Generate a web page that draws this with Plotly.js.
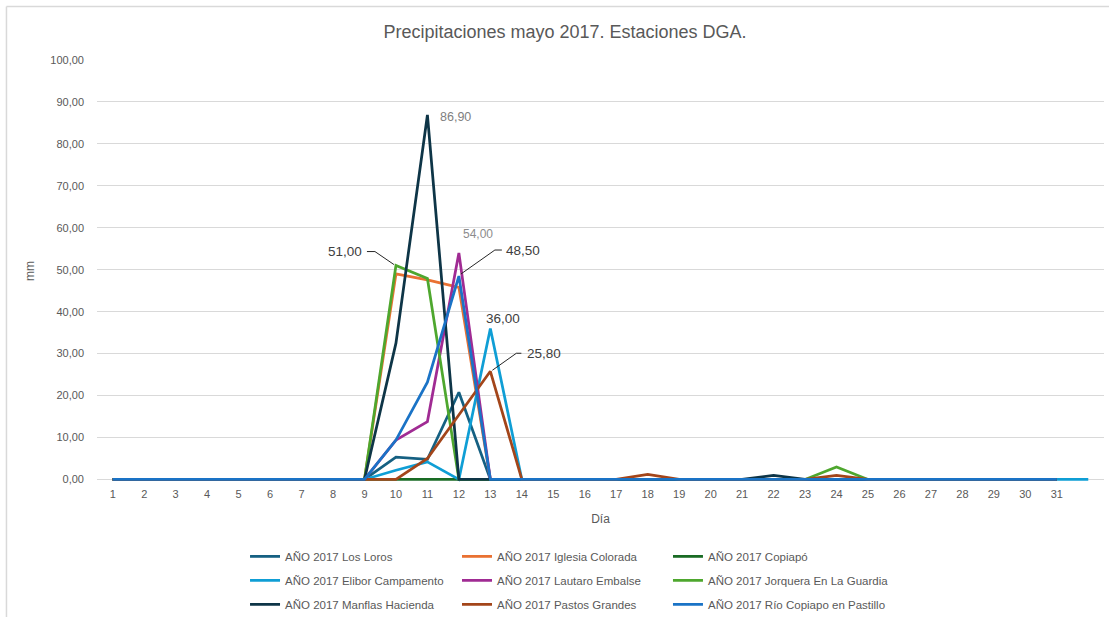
<!DOCTYPE html>
<html>
<head>
<meta charset="utf-8">
<script src="https://cdn.plot.ly/plotly-3.0.1.min.js"></script>
<style>
  html, body { margin: 0; padding: 0; background: #ffffff; }
  #chart { width: 1109px; height: 617px; }
</style>
</head>
<body>
<div id="chart"></div>
<script>
// ---- Data ----
const dayLabels = ['1','2','3','4','5','6','7','8','9','10','11','12','13','14','15','16','17','18','19','20','21','22','23','24','25','26','27','28','29','30','31'];
const days31 = [1,2,3,4,5,6,7,8,9,10,11,12,13,14,15,16,17,18,19,20,21,22,23,24,25,26,27,28,29,30,31];
const days32 = [1,2,3,4,5,6,7,8,9,10,11,12,13,14,15,16,17,18,19,20,21,22,23,24,25,26,27,28,29,30,31,32];

const losLoros   = [0,0,0,0,0,0,0,0,0,5.3,4.8,20.8,0,0,0,0,0,0,0,0,0,0,0,0,0,0,0,0,0,0,0];
const iglesia    = [0,0,0,0,0,0,0,0,0,49.0,47.6,45.8,0,0,0,0,0,0,0,0,0,0,0,0,0,0,0,0,0,0,0];
const copiapo    = [0,0,0,0,0,0,0,0,0,0,0,0,0,0,0,0,0,0,0,0,0,0,0,0,0,0,0,0,0,0,0];
const elibor     = [0,0,0,0,0,0,0,0,0,2.2,4.2,0,36.0,0,0,0,0,0,0,0,0,0,0,0,0,0,0,0,0,0,0,0];
const lautaro    = [0,0,0,0,0,0,0,0,0,9.4,13.8,54.0,0,0,0,0,0,0,0,0,0,0,0,0,0,0,0,0,0,0,0];
const jorquera   = [0,0,0,0,0,0,0,0,0,51.0,47.9,0,0,0,0,0,0,0,0,0,0,0,0,3.0,0,0,0,0,0,0,0];
const manflas    = [0,0,0,0,0,0,0,0,0,32.5,86.9,0,0,0,0,0,0,0,0,0,0,1.0,0,0,0,0,0,0,0,0,0];
const pastos     = [0,0,0,0,0,0,0,0,0,0,5.0,15.4,25.8,0,0,0,0,1.2,0,0,0,0,0,1.0,0,0,0,0,0,0,0];
const rioCopiapo = [0,0,0,0,0,0,0,0,0,9.4,23.2,48.5,0,0,0,0,0,0,0,0,0,0,0,0,0,0,0,0,0,0,0];

const seriesNames = [
  'AÑO 2017 Los Loros', 'AÑO 2017 Iglesia Colorada', 'AÑO 2017 Copiapó',
  'AÑO 2017 Elibor Campamento', 'AÑO 2017 Lautaro Embalse', 'AÑO 2017 Jorquera En La Guardia',
  'AÑO 2017 Manflas Hacienda', 'AÑO 2017 Pastos Grandes', 'AÑO 2017 Río Copiapo en Pastillo'
];
const yTicks = [0,10,20,30,40,50,60,70,80,90,100];

// ---- Styling ----
const colors = ['#156082','#E97132','#196B24','#0F9ED5','#A02B93','#4EA72E','#0E3547','#A3451A','#1A73C6'];
const seriesY = [losLoros, iglesia, copiapo, elibor, lautaro, jorquera, manflas, pastos, rioCopiapo];
const seriesX = [days31, days31, days31, days32, days31, days31, days31, days31, days31];
const legendIds = ['legend','legend2','legend3','legend4','legend5','legend6','legend7','legend8','legend9'];

const traces = seriesY.map((ys, i) => ({
  type: 'scatter', mode: 'lines',
  x: seriesX[i], y: ys, name: seriesNames[i],
  line: { color: colors[i], width: 2.75 },
  legend: legendIds[i],
  hoverinfo: 'x+y+name'
}));

const fmt = v => v.toFixed(2).replace('.', ',');

// Data labels: [series, dayIndex, xshift, yshift, xanchor, size, color]
const labelSpecs = [
  [manflas, 10, 11, -2, 'left', 12.5, '#7f7f7f'],
  [lautaro, 11, 19, 19, 'center', 12, '#8c8c8c'],
  [jorquera, 9, -32, 14, 'right', 13.5, '#404040'],
  [rioCopiapo, 11, 45, 26, 'left', 13.5, '#404040'],
  [elibor, 12, 13, 10, 'center', 13.5, '#404040'],
  [pastos, 12, 35, 18, 'left', 13.5, '#404040']
];
const annotations = labelSpecs.map(s => ({
  xref: 'x', yref: 'y', x: s[1] + 1, y: s[0][s[1]],
  text: fmt(s[0][s[1]]), showarrow: false,
  xanchor: s[4], yanchor: 'middle', xshift: s[2], yshift: s[3],
  font: { family: 'Liberation Sans, Arial, sans-serif', size: s[5], color: s[6] }
}));

// Leader lines (pixel offsets relative to the labelled point)
const leaderSpecs = [
  [jorquera, 9, 'M-29,14 L-21,14 L-2,1'],
  [rioCopiapo, 11, 'M43,26 L36,26 L2,2'],
  [pastos, 12, 'M31,18 L26,18 L2,1']
];
const shapes = leaderSpecs.map(s => ({
  type: 'path', xref: 'x', yref: 'y',
  xsizemode: 'pixel', ysizemode: 'pixel',
  xanchor: s[1] + 1, yanchor: s[0][s[1]],
  path: s[2], line: { color: '#262626', width: 1 }
}));
// chart border (left & top)
shapes.push({ type: 'line', xref: 'paper', yref: 'paper', x0: -0.0899, x1: -0.0899, y0: 1.1266, y1: -0.33,
  line: { color: '#d9d9d9', width: 1.5 } });
shapes.push({ type: 'line', xref: 'paper', yref: 'paper', x0: -0.0899, x1: 1.01, y0: 1.1266, y1: 1.1266,
  line: { color: '#d9d9d9', width: 1.5 } });

const legendFont = { family: 'Liberation Sans, Arial, sans-serif', size: 11.5, color: '#595959' };
const colX = [0.147, 0.3575, 0.567];
const rowY = [-0.1763, -0.2331, -0.2899];

const layout = {
  width: 1109, height: 617,
  paper_bgcolor: '#ffffff', plot_bgcolor: '#ffffff',
  margin: { l: 97, r: 5, t: 60, b: 134.5, autoexpand: false },
  separators: ',.',
  showlegend: true,
  title: {
    text: 'Precipitaciones mayo 2017. Estaciones DGA.',
    xref: 'container', yref: 'container', x: 0.5095, y: 0.948, xanchor: 'center', yanchor: 'middle',
    font: { family: 'Liberation Sans, Arial, sans-serif', size: 18, color: '#595959' }
  },
  xaxis: {
    range: [0.5, 32.5], tickmode: 'array', tickvals: days31, ticktext: dayLabels,
    showgrid: false, zeroline: false, showline: false, ticks: '',
    tickfont: { family: 'Liberation Sans, Arial, sans-serif', size: 11, color: '#595959' },
    ticklabelstandoff: 4,
    title: { text: 'Día', standoff: 15, font: { family: 'Liberation Sans, Arial, sans-serif', size: 12, color: '#595959' } },
    fixedrange: true
  },
  yaxis: {
    range: [-0.6, 100], tickmode: 'array', tickvals: yTicks, tickformat: '.2f',
    showgrid: true, gridcolor: '#d9d9d9', gridwidth: 1, zeroline: false, showline: false, ticks: '',
    tickfont: { family: 'Liberation Sans, Arial, sans-serif', size: 11, color: '#595959' },
    ticklabelstandoff: 12,
    title: { text: 'mm', standoff: 13, font: { family: 'Liberation Sans, Arial, sans-serif', size: 12, color: '#595959' } },
    fixedrange: true
  },
  annotations: annotations,
  shapes: shapes
};
legendIds.forEach((id, i) => {
  layout[id] = {
    orientation: 'h', xref: 'paper', yref: 'paper',
    x: colX[i % 3], y: rowY[Math.floor(i / 3)], xanchor: 'left', yanchor: 'middle',
    font: legendFont, bgcolor: 'rgba(0,0,0,0)', borderwidth: 0,
    itemclick: false, itemdoubleclick: false
  };
});

Plotly.newPlot('chart', traces, layout, { displayModeBar: false, staticPlot: true });
</script>
</body>
</html>
